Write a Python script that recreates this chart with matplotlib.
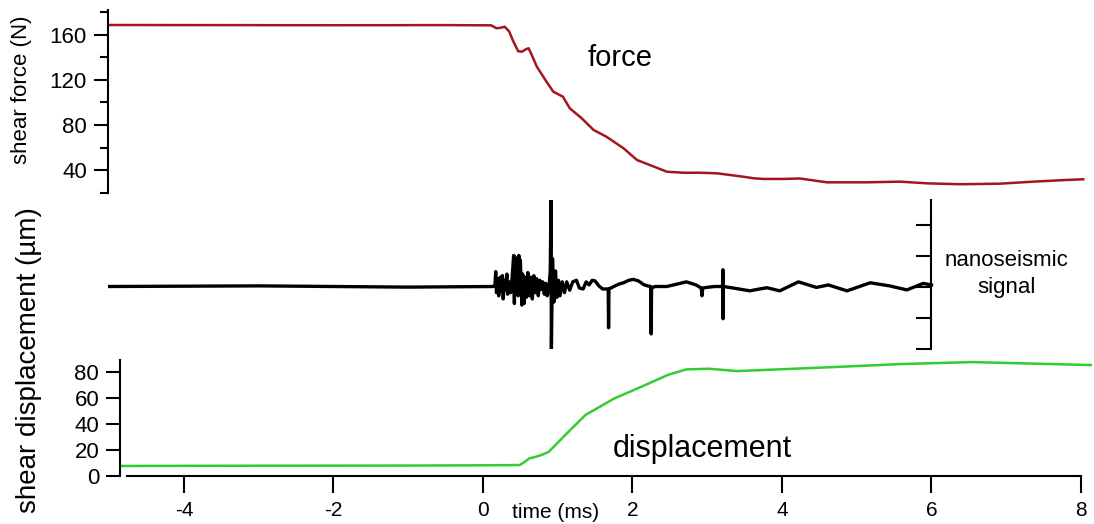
import numpy as np
import matplotlib.pyplot as plt
from matplotlib.ticker import MultipleLocator

plt.rcParams['font.family'] = ['Liberation Sans', 'DejaVu Sans']
plt.rcParams['axes.unicode_minus'] = False

# shear force (N) vs time (ms)
force_t = [-5.02, -3.5, -2.0, -0.5, 0.11, 0.18, 0.24, 0.29, 0.35, 0.40, 0.47, 0.52,
           0.57, 0.61, 0.66, 0.72, 0.85, 0.94, 1.07, 1.16, 1.32, 1.48, 1.65, 1.88,
           2.06, 2.23, 2.46, 2.68, 2.90, 3.13, 3.48, 3.62, 3.75, 4.02, 4.24, 4.60,
           5.13, 5.58, 5.94, 6.38, 6.92, 7.36, 7.81, 8.03]
force_v = [168.7, 168.6, 168.5, 168.6, 168.4, 165.8, 166.3, 167.2, 163.0, 155.0, 145.5, 145.0,
           147.0, 148.1, 141.0, 131.8, 118.4, 109.6, 105.1, 94.9, 86.0, 75.6, 69.7, 59.4,
           49.0, 44.6, 38.6, 37.7, 37.7, 37.2, 34.2, 32.8, 32.2, 32.2, 32.6, 29.2,
           29.2, 29.8, 28.3, 27.5, 28.0, 29.8, 31.3, 31.9]

# nanoseismic signal (arbitrary units), (time, value)
signal_pts = [
    (-5.00, 0.0), (-3.0, 0.02), (-1.0, -0.02), (0.14, 0.0),
    (0.16, 0.02), (0.17, 0.48), (0.18, -0.20), (0.20, 0.25), (0.21, -0.30),
    (0.23, 0.30), (0.24, -0.15), (0.26, 0.35), (0.27, -0.40), (0.29, 0.20),
    (0.30, -0.10), (0.32, 0.40), (0.33, -0.25), (0.35, 0.15), (0.37, -0.20),
    (0.39, 0.30), (0.41, 1.00), (0.42, -0.55), (0.43, 0.95), (0.45, 0.00),
    (0.46, 0.90), (0.47, -0.30), (0.48, 1.00), (0.49, 0.20), (0.50, 0.85),
    (0.52, -0.60), (0.53, 0.40), (0.55, -0.55), (0.56, 0.30), (0.58, -0.35),
    (0.60, 0.45), (0.62, -0.30), (0.64, 0.30), (0.66, -0.40), (0.68, 0.35),
    (0.70, -0.20), (0.72, 0.25), (0.74, -0.30), (0.76, 0.20), (0.78, -0.10),
    (0.80, 0.15), (0.82, -0.25), (0.84, 0.10), (0.86, -0.30), (0.88, -0.10),
    (0.90, 0.50), (0.91, 2.80), (0.915, -2.00), (0.93, 0.90), (0.95, -0.50),
    (0.97, 0.50), (0.99, -0.35), (1.01, 0.20), (1.03, -0.30), (1.06, 0.15),
    (1.09, -0.20), (1.12, 0.15), (1.16, -0.12), (1.20, 0.15), (1.25, 0.20),
    (1.29, -0.05), (1.34, -0.08), (1.38, 0.15), (1.42, 0.05), (1.46, 0.20),
    (1.50, 0.18), (1.55, 0.02), (1.60, -0.08), (1.675, -0.08), (1.68, -1.33),
    (1.685, -0.08), (1.75, 0.00), (1.82, 0.08), (1.88, 0.12), (1.95, 0.20),
    (2.01, 0.23), (2.08, 0.18), (2.15, 0.06), (2.20, 0.02), (2.245, 0.00),
    (2.25, -1.53), (2.255, -0.05), (2.30, 0.00), (2.46, 0.00), (2.60, 0.08),
    (2.72, 0.15), (2.85, 0.05), (2.92, -0.05), (2.93, -0.30), (2.94, -0.05),
    (2.99, -0.03), (3.10, 0.00), (3.205, 0.00), (3.21, 0.54), (3.212, -1.04),
    (3.215, 0.00), (3.35, -0.05), (3.57, -0.14), (3.70, -0.08), (3.80, -0.04),
    (3.97, -0.14), (4.22, 0.15), (4.46, -0.03), (4.62, 0.05), (4.87, -0.14),
    (5.18, 0.12), (5.44, 0.02), (5.67, -0.11), (5.89, 0.10), (6.00, 0.05),
]

# shear displacement (um) vs time (ms)
disp_t = [-4.83, -3.0, -1.0, 0.0, 0.49, 0.55, 0.62, 0.71, 0.80, 0.88, 1.10, 1.37,
          1.76, 2.14, 2.47, 2.72, 3.02, 3.40, 3.95, 4.78, 5.60, 6.54, 7.25, 8.15]
disp_v = [7.7, 7.9, 8.0, 8.2, 8.4, 10.5, 13.5, 14.8, 16.5, 18.6, 31.4, 46.8,
          59.6, 69.0, 77.5, 81.8, 82.3, 80.5, 81.8, 83.8, 85.9, 87.4, 86.4, 85.1]

x_ticks = [-4, -2, 0, 2, 4, 6, 8]
force_ticks = [40, 80, 120, 160]
disp_ticks = [0, 20, 40, 60, 80]
signal_ticks = [-2, -1, 0, 1, 2]

W, H = 1094, 524
fig = plt.figure(figsize=(W / 100, H / 100), dpi=100)
xlim = (-5.02, 8.15)
left, width = 107.75 / W, (1092.2 - 107.75) / W

def frac(top_px, bottom_px):
    return [left, 1 - bottom_px / H, width, (bottom_px - top_px) / H]

ax_f = fig.add_axes(frac(10, 192.7))
ax_s = fig.add_axes(frac(199.7, 348.5))
ax_d = fig.add_axes(frac(360, 476))

for ax in (ax_f, ax_s, ax_d):
    ax.set_xlim(*xlim)
    ax.patch.set_visible(False)
    for s in ax.spines.values():
        s.set_visible(False)
        s.set_linewidth(1.5)
    ax.tick_params(width=1.5, labelsize=16)

# force panel
ax_f.plot(force_t, force_v, color='#a3161e', lw=1.8)
ax_f.set_ylim(20, 182)
ax_f.spines['left'].set_visible(True)
ax_f.set_yticks(force_ticks)
ax_f.yaxis.set_minor_locator(MultipleLocator(20))
ax_f.tick_params(axis='y', which='major', length=10, pad=5)
ax_f.tick_params(axis='y', which='minor', length=6, width=1.5)
ax_f.set_xticks([])
ax_f.text(1.83, 139.5, 'force', fontsize=21, ha='center', va='center')

# signal panel
st, sv = np.array(signal_pts).T
ax_s.plot(st, sv, color='black', lw=2.4)
ax_s.set_ylim(-2.0, 2.8)
ax_s.spines['right'].set_visible(True)
ax_s.spines['right'].set_position(('data', 6.0))
ax_s.yaxis.tick_right()
ax_s.set_yticks(signal_ticks)
ax_s.tick_params(axis='y', direction='in', length=11, labelright=False)
ax_s.set_xticks([])
ax_s.text(7.0, 0.4, 'nanoseismic\nsignal', fontsize=16, ha='center', va='center',
          linespacing=1.4)

# displacement panel
ax_d.plot(disp_t, disp_v, color='#33cc33', lw=1.8)
ax_d.set_ylim(0, 89)
ax_d.spines['left'].set_visible(True)
ax_d.spines['left'].set_position(('data', -4.856))
ax_d.spines['bottom'].set_visible(True)
ax_d.spines['bottom'].set_bounds(-4.76, 8)
ax_d.set_yticks(disp_ticks)
ax_d.set_xticks(x_ticks)
ax_d.tick_params(axis='y', length=10, pad=5)
ax_d.tick_params(axis='x', length=12, pad=6, labelsize=15)
ax_d.text(2.93, 21, 'displacement', fontsize=22, ha='center', va='center')

fig.text(22 / W, 1 - 90 / H, 'shear force (N)', rotation=90, fontsize=16,
         ha='center', va='center')
fig.text(29 / W, 1 - 360 / H, 'shear displacement (\u00b5m)', rotation=90,
         fontsize=20, ha='center', va='center')
fig.text(556 / W, 1 - 513 / H, 'time (ms)', fontsize=15, ha='center', va='center')

fig.savefig('out.png', dpi=100)
